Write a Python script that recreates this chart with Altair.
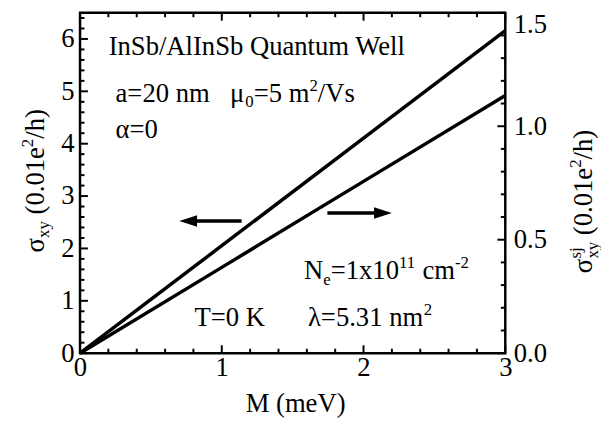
import altair as alt
import pandas as pd

# ---------------- data ----------------
M_meV = [0.0, 1.0, 2.0, 3.0]
sigma_xy = [0.0, 2.053, 4.107, 6.16]      # left axis (0.01 e^2/h)
sigma_sj = [0.0, 0.378, 0.757, 1.135]     # right axis (0.01 e^2/h)

x_major = [0, 1, 2, 3]
x_minor = [0.2, 0.4, 0.6, 0.8, 1.2, 1.4, 1.6, 1.8, 2.2, 2.4, 2.6, 2.8]
yl_major = [0, 1, 2, 3, 4, 5, 6]
yl_minor = [0.2, 0.4, 0.6, 0.8, 1.2, 1.4, 1.6, 1.8, 2.2, 2.4, 2.6, 2.8,
            3.2, 3.4, 3.6, 3.8, 4.2, 4.4, 4.6, 4.8, 5.2, 5.4, 5.6, 5.8, 6.2, 6.4]
yr_major = [0.0, 0.5, 1.0, 1.5]
yr_minor = [0.1, 0.2, 0.3, 0.4, 0.6, 0.7, 0.8, 0.9, 1.1, 1.2, 1.3, 1.4]

# arrows (data coordinates: M, left-axis value)
arrow_y = [2.525, 2.675]
arrow_tail = [1.14, 1.745]
arrow_head = [0.763, 2.137]
arrow_shape = ["M-1,0L1,-0.65L1,0.65Z", "M1,0L-1,-0.65L-1,0.65Z"]

# annotation texts: (page x, page baseline y, pieces)
annotations = [
    (110, 53, [("InSb/AlInSb Quantum Well", "n")]),
    (117, 100, [("a=20 nm", "n")]),
    (233, 100, [("μ", "n"), ("0", "sub"), ("=5 m", "n"), ("2", "sup"), ("/Vs", "n")]),
    (117, 137, [("α=0", "n")]),
    (308, 280, [("N", "n"), ("e", "sub"), ("=1x10", "n"), ("11", "sup"), (" cm", "n"), ("-2", "sup")]),
    (197, 327, [("T=0 K", "n")]),
    (312, 327, [("λ=5.31 nm", "n"), ("2", "sup")]),
]
left_title = (44, 253, [("σ", "n"), ("xy", "sub"), (" (0.01e", "n"), ("2", "sup"), ("/h)", "n")])
right_title = (600, 274, [("σ", "n"), ("sj", "sup0"), ("xy", "sub"), (" (0.01e", "n"), ("2", "sup"), ("/h)", "n")])

# ---------------- layout ----------------
FONT = "Liberation Serif"
W, H = 431, 345
X0, Y0 = 81, 10          # page position of plot origin
FS, FS_S = 27, 17

WID = {' ': 250, '(': 333, ')': 333, '-': 333, '.': 250, '/': 278, '=': 564,
       'A': 722, 'I': 333, 'K': 722, 'M': 889, 'N': 722, 'Q': 722, 'S': 556,
       'T': 611, 'V': 722, 'W': 944, 'a': 444, 'b': 500, 'c': 444, 'e': 444,
       'h': 500, 'j': 278, 'l': 278, 'm': 778, 'n': 500, 's': 389, 't': 278,
       'u': 500, 'x': 500, 'y': 500, 'μ': 576, 'α': 540, 'λ': 500, 'σ': 550}


def tw(s, fs):
    return sum(WID.get(c, 500) for c in s) * fs / 1000.0


one = pd.DataFrame({"k": [0]})


def text_layers(x0, y0, pieces, angle=0):
    out = []
    cur = 0.0
    for txt, kind in pieces:
        fs = FS if kind == "n" else FS_S
        shift = {"n": 0, "sub": 6, "sup": -11, "sup0": -11}[kind]
        stripped = txt.lstrip(" ")
        lead = tw(txt[: len(txt) - len(stripped)], fs)   # leading blanks are dropped by SVG
        cur += lead
        if angle == 0:
            px, py = x0 + cur, y0 + shift
        else:
            px, py = x0 + shift, y0 - cur
        out.append(
            alt.Chart(one).mark_text(
                text=stripped, font=FONT, fontSize=fs, align="left",
                baseline="alphabetic", angle=angle, color="black"
            ).encode(x=alt.value(px - X0), y=alt.value(py - Y0))
        )
        if kind != "sup0":
            cur += tw(stripped, fs)
        else:
            cur -= lead
    return out


df = pd.DataFrame({"M": M_meV, "sxy": sigma_xy, "ssj": sigma_sj})
xs = alt.Scale(domain=[0, 3], nice=False, zero=False)
yls = alt.Scale(domain=[0, 6.5], nice=False, zero=False)
yrs = alt.Scale(domain=[0, 1.5], nice=False, zero=False)

x_axis = alt.Axis(values=x_major, title="M (meV)", labelPadding=2,
                  titleX=218, titleY=59, titleBaseline="alphabetic")


def X(field):
    return alt.X(field, type="quantitative", scale=xs, axis=x_axis)


line_left = alt.Chart(df).mark_line(color="black", strokeWidth=3.5).encode(
    x=X("M"),
    y=alt.Y("sxy:Q", scale=yls,
            axis=alt.Axis(orient="left", values=yl_major, title=None, labelPadding=6)),
)

line_right = alt.Chart(df).mark_line(color="black", strokeWidth=3.5).encode(
    x=X("M"),
    y=alt.Y("ssj:Q", scale=yrs,
            axis=alt.Axis(orient="right", values=yr_major, format=".1f",
                          title=None, labelPadding=8,
                          labelOffset={"condition": {"test": "datum.value == 1.5", "value": 12},
                                       "value": 0})),
)


def hticks(vals, scale, x1, x2):
    return alt.Chart(pd.DataFrame({"v": vals})).mark_rule(color="black", strokeWidth=2).encode(
        y=alt.Y("v:Q", scale=scale, axis=None), x=alt.value(x1), x2=alt.value(x2))


def vticks(vals, y1, y2):
    return alt.Chart(pd.DataFrame({"v": vals})).mark_rule(color="black", strokeWidth=2).encode(
        x=X("v"), y=alt.value(y1), y2=alt.value(y2))


arrows_df = pd.DataFrame({"y": arrow_y, "tail": arrow_tail, "head": arrow_head})
shafts = alt.Chart(arrows_df).mark_rule(color="black", strokeWidth=3.5).encode(
    x=X("tail"), x2="head:Q",
    y=alt.Y("y:Q", scale=yls, axis=None))
heads = [
    alt.Chart(arrows_df.iloc[[i]]).mark_point(
        shape=arrow_shape[i], filled=True, size=324, color="black", opacity=1, strokeWidth=0
    ).encode(x=X("head"), y=alt.Y("y:Q", scale=yls, axis=None))
    for i in range(len(arrow_y))
]

frame = alt.Chart(one).mark_rect(
    fill="white", fillOpacity=0, stroke="black", strokeWidth=2.5
).encode(x=alt.value(0), x2=alt.value(W), y=alt.value(0), y2=alt.value(H))

texts = []
for a in annotations:
    texts += text_layers(*a)
texts += text_layers(*left_title, angle=270)
texts += text_layers(*right_title, angle=270)

chart = alt.layer(
    line_left,
    line_right,
    hticks(yl_major, yls, 0, 8), hticks(yl_minor, yls, 0, 4.5),
    hticks(yr_major, yrs, W - 8, W), hticks(yr_minor, yrs, W - 4.5, W),
    vticks(x_major, H, H - 8), vticks(x_minor, H, H - 4.5),
    vticks(x_major, 0, 8), vticks(x_minor, 0, 4.5),
    shafts, *heads, frame, *texts,
).resolve_scale(y="independent").properties(
    width=W, height=H,
    background="white",
    autosize=alt.AutoSizeParams(type="none"),
    padding={"left": X0 - 8, "top": Y0 - 8, "right": 601 - (X0 - 8) - W, "bottom": 420 - (Y0 - 8) - H},
).configure_view(stroke=None).configure_axis(
    labelFont=FONT, labelFontSize=FS, labelColor="black", domain=False, ticks=False,
    grid=False, titleFont=FONT, titleFontSize=FS, titleFontWeight="normal",
    titleColor="black", labelOverlap=False, labelFlush=False,
)

chart.save("out.html", embed_options={"renderer": "svg", "actions": False})
